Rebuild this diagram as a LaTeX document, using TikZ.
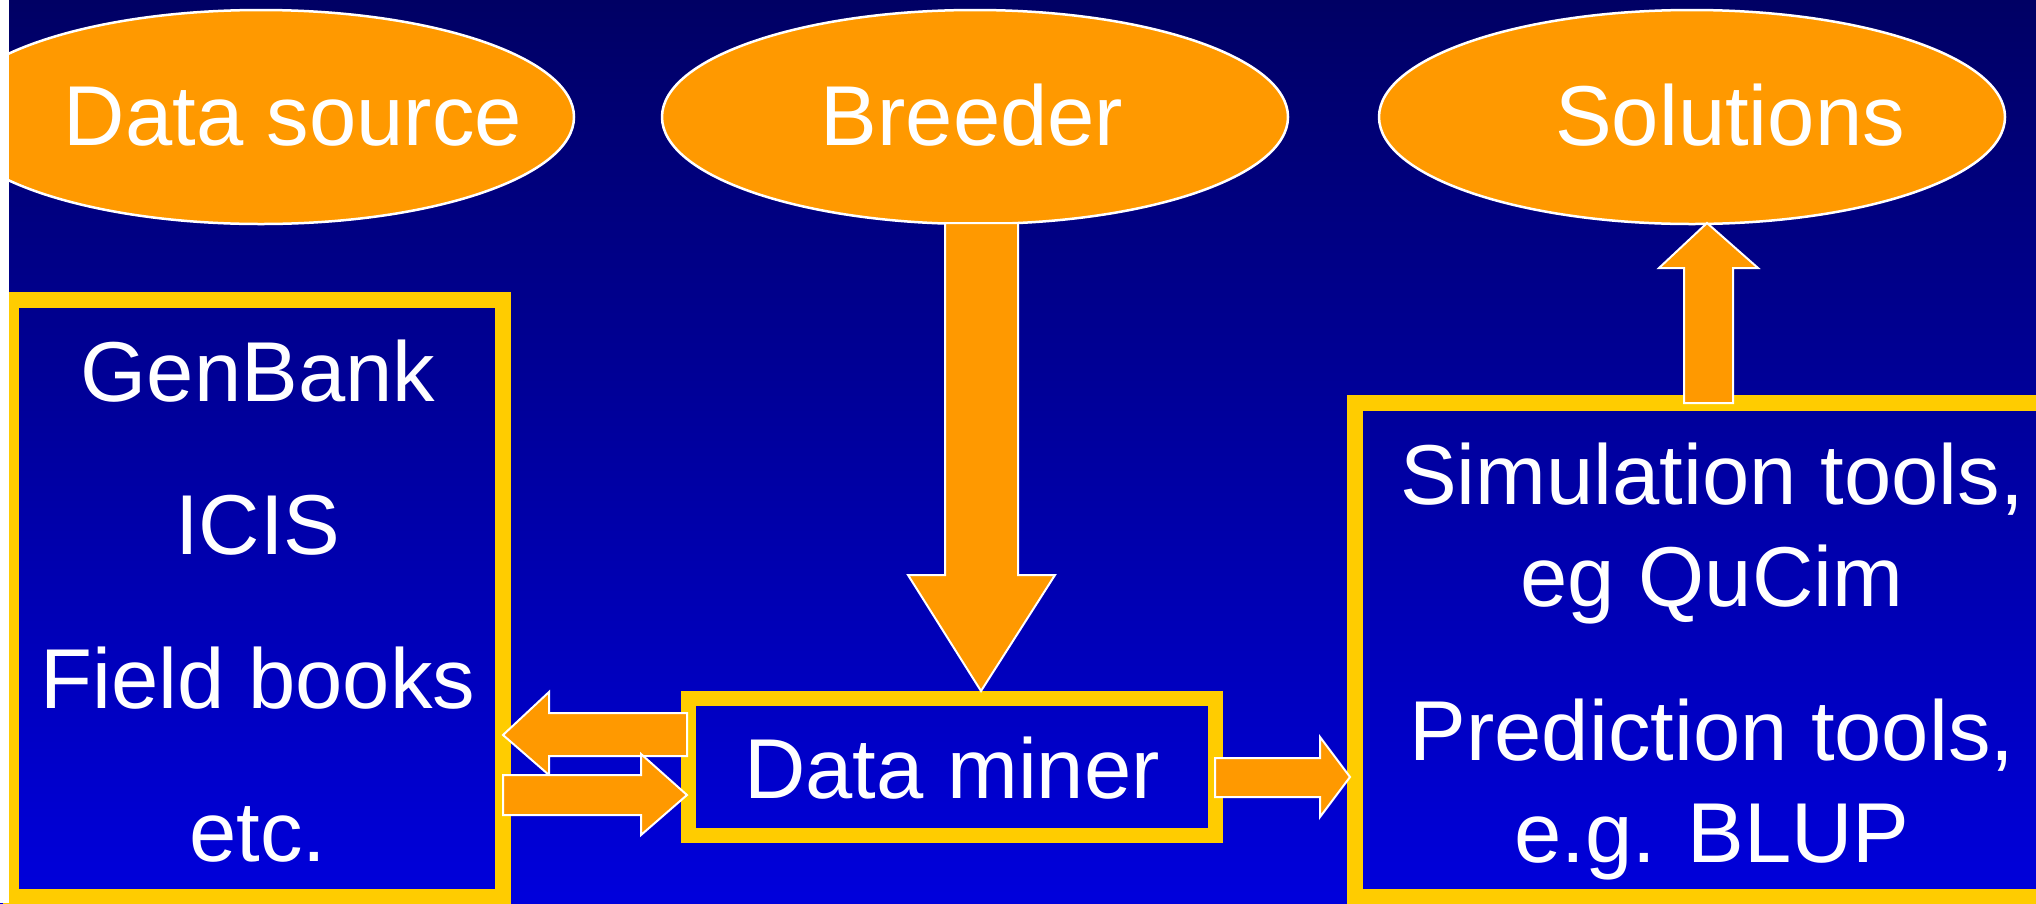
\documentclass[tikz,border=0pt]{standalone}
\usepackage{fontspec}
\setmainfont{Liberation Sans}
\usetikzlibrary{shapes.geometric}
\definecolor{orng}{HTML}{FF9900}
\definecolor{ylw}{HTML}{FFCC00}
\definecolor{bgtop}{HTML}{000064}
\definecolor{bgbot}{HTML}{0000DC}
\begin{document}
\begin{tikzpicture}[x=1pt,y=-1pt,
  oval/.style={ellipse, fill=orng, draw=white, line width=2.5pt, inner sep=0pt,
               minimum width=626pt, minimum height=214pt},
  frame/.style={rectangle, draw=ylw, line width=16pt, inner sep=0pt},
  lbl/.style={text=white, font=\fontsize{85pt}{102pt}\selectfont, inner sep=0pt, anchor=base},
  blockarr/.style={fill=orng, draw=white, line width=2pt, line join=miter}]
\useasboundingbox (0,0) rectangle (2036,903);
\shade[top color=bgtop, bottom color=bgbot] (0,0) rectangle (2036,903);

% ovals
\node[oval] (src) at (261,117) {};
\node[oval] (breeder) at (975,117) {};
\node[oval] (sol) at (1692,117) {};
\node[lbl] (srct) at (293,145) {Data source};
\node[lbl] (breedert) at (972,145) {Breeder};
\node[lbl] (solt) at (1730,145) {Solutions};

% boxes
\node[frame, minimum width=492.5pt, minimum height=597pt] (db) at (256.75,598.5) {};
\node[frame, minimum width=705pt, minimum height=494pt] (tools) at (1707.5,650) {};
\node[frame, line width=15pt, minimum width=527pt, minimum height=137pt] (miner) at (951.5,766.5) {};

\node[lbl] (gb) at (258,401) {GenBank};
\node[lbl] (icis) at (258,554) {ICIS};
\node[lbl] (fb) at (258,708) {Field books};
\node[lbl] (etc) at (258,861) {etc.};

\node[lbl] (t1) at (1712,504) {Simulation tools,};
\node[lbl] (t2) at (1712,606) {eg QuCim};
\node[lbl] (t3) at (1712,760) {Prediction tools,};
\node[lbl] (t4) at (1712,862) {e.g. BLUP};

\node[lbl] (minert) at (952,798) {Data miner};

% block arrows
% breeder -> data miner
\draw[blockarr] (945,223) -- (1018,223) -- (1018,575) -- (1055,575) -- (981,691)
  -- (908,575) -- (945,575) -- cycle;
% tools -> solutions
\draw[blockarr] (1684,403) -- (1684,268) -- (1659,268) -- (1707,223) -- (1758,268)
  -- (1733,268) -- (1733,403) -- cycle;
% data miner -> data source box
\draw[blockarr] (687,713) -- (549,713) -- (549,692) -- (503,735) -- (549,775)
  -- (549,756) -- (687,756) -- cycle;
% data source box -> data miner
\draw[blockarr] (503,775) -- (641,775) -- (641,754) -- (687,795) -- (641,835)
  -- (641,815) -- (503,815) -- cycle;
% data miner -> tools
\draw[blockarr] (1215,758) -- (1320,758) -- (1320,737) -- (1350,777) -- (1320,817)
  -- (1320,797) -- (1215,797) -- cycle;

% white strip at left edge
\fill[white] (0,0) rectangle (9,903);
\end{tikzpicture}
\end{document}
